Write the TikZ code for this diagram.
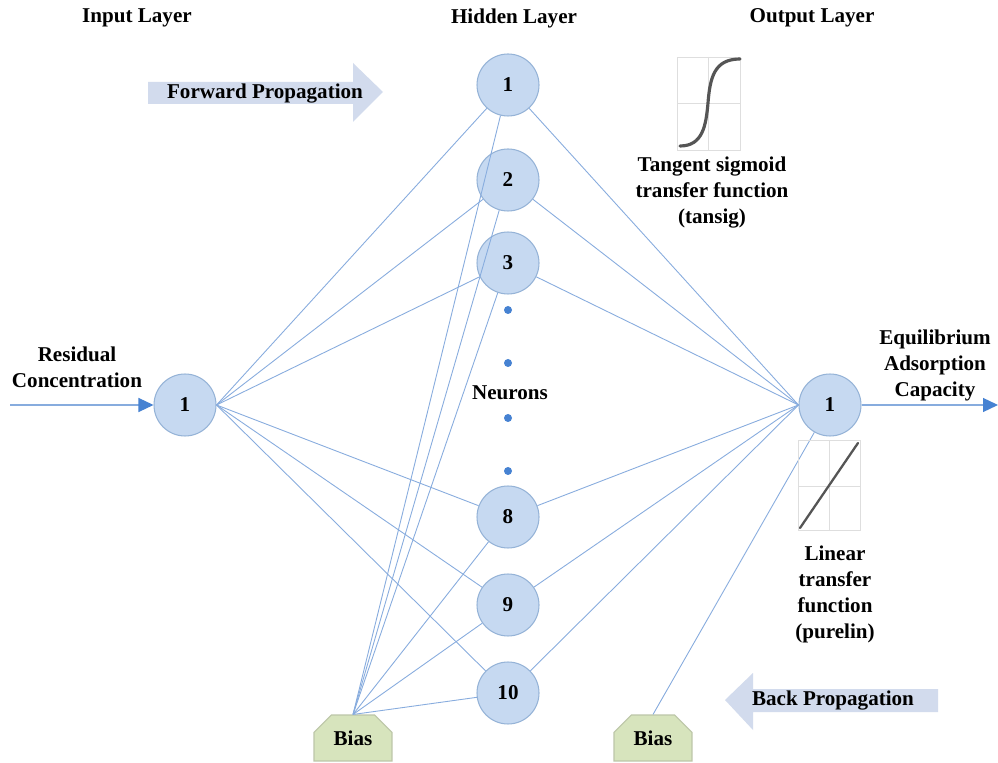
\documentclass[tikz,border=0pt]{standalone}
\usepackage{fontspec}
\setmainfont{Liberation Serif}
\usetikzlibrary{arrows.meta,shapes.misc}
\definecolor{nodefill}{RGB}{198,217,241}
\definecolor{nodeedge}{RGB}{149,179,215}
\definecolor{linkcol}{RGB}{135,172,222}
\definecolor{arrowblue}{RGB}{70,130,210}
\definecolor{biasfill}{RGB}{215,228,189}
\definecolor{biasedge}{RGB}{188,198,168}
\definecolor{blockfill}{RGB}{210,219,237}
\definecolor{gridcol}{RGB}{222,222,222}
\definecolor{curvecol}{RGB}{85,85,85}
\tikzset{
  txt/.style={font=\fontsize{12}{14.8}\selectfont\bfseries, align=center, inner sep=0pt},
  neuron/.style={circle, draw=nodeedge, fill=nodefill, line width=0.6pt, minimum size=1.24cm, inner sep=0pt, font=\fontsize{12}{14.8}\selectfont\bfseries},
  biasbox/.style={chamfered rectangle, chamfered rectangle corners={north west, north east}, chamfered rectangle xsep=0.2cm, chamfered rectangle ysep=0.2cm, draw=biasedge, fill=biasfill, line width=0.6pt, minimum width=1.56cm, minimum height=0.92cm, inner sep=0pt, font=\fontsize{12}{14.8}\selectfont\bfseries},
  link/.style={draw=linkcol, line width=0.5pt},
  ioarrow/.style={draw=linkcol, line width=0.7pt, -{Triangle[length=0.3cm,width=0.28cm,fill=arrowblue,color=arrowblue]}},
  dotnode/.style={circle, fill=arrowblue, minimum size=0.16cm, inner sep=0pt},
  block/.style={fill=blockfill, draw=none},
  gridline/.style={draw=gridcol, line width=0.5pt},
  plotline/.style={draw=curvecol, line width=1.8pt, line cap=round}
}
\begin{document}
\begin{tikzpicture}[x=0.02cm, y=-0.02cm]
\useasboundingbox (0,0) rectangle (998,763);
\fill[white] (0,0) rectangle (998,763);

% titles
\node[txt] (tin) at (137,18) {Input Layer};
\node[txt] (thid) at (514,18) {Hidden Layer};
\node[txt] (tout) at (812,18) {Output Layer};

% block arrows
\path[block] (148,82) -- (353,82) -- (353,63) -- (383,92) -- (353,122) -- (353,104) -- (148,104) -- cycle;
\node[txt] (fwd) at (265,94) {Forward Propagation};
\path[block] (938,689) -- (753,689) -- (753,673) -- (725,700) -- (753,730) -- (753,712) -- (938,712) -- cycle;
\node[txt] (bwd) at (833,701) {Back Propagation};

% neurons
\node[neuron] (in) at (185,405) {1};
\node[neuron] (h1) at (508,85) {1};
\node[neuron] (h2) at (508,180) {2};
\node[neuron] (h3) at (508,263) {3};
\node[neuron] (h8) at (508,517) {8};
\node[neuron] (h9) at (508,605) {9};
\node[neuron] (h10) at (508,693) {10};
\node[neuron] (out) at (830,405) {1};

% bias
\node[biasbox] (b1) at (353,738) {Bias};
\node[biasbox] (b2) at (653,738) {Bias};

% dots and neurons label
\node[dotnode] (d1) at (508,310) {};
\node[dotnode] (d2) at (508,363) {};
\node[dotnode] (d3) at (508,418) {};
\node[dotnode] (d4) at (508,471) {};
\node[txt] (neur) at (510,393) {Neurons};

% connections
\foreach \h in {h1,h2,h3,h8,h9,h10}{
  \draw[link] (in.east) -- (\h);
  \draw[link] (\h) -- (out.west);
  \draw[link] (b1.north) -- (\h);
}
\draw[link] (b2.north) -- (out);

% input / output arrows
\coordinate (istart) at (10,405);
\coordinate (oend) at (998,405);
\draw[ioarrow] (istart) -- (in.west);
\draw[ioarrow] (out.east) -- (oend);

% io labels
\node[txt] (lres) at (77,367) {Residual\\Concentration};
\node[txt] (leq) at (935,365) {Equilibrium\\Adsorption\\Capacity};

% sigmoid plot
\draw[gridline] (677,57) rectangle (740,150);
\draw[gridline] (677,103) -- (740,103);
\draw[gridline] (708,57) -- (708,150);
\draw[plotline] (680,146) .. controls (703,146) and (706,125) .. (708,103) .. controls (710,78) and (714,59) .. (740,59);
\node[txt] (lsig) at (712,193) {Tangent sigmoid\\transfer function\\(tansig)};

% linear plot
\draw[gridline] (798,440) rectangle (860,530);
\draw[gridline] (798,486) -- (860,486);
\draw[gridline] (829,440) -- (829,530);
\draw[line width=1.3pt, draw=curvecol, line cap=round] (800,528) -- (858,443);
\node[txt] (llin) at (835,594) {Linear\\transfer\\function\\(purelin)};
\end{tikzpicture}
\end{document}
